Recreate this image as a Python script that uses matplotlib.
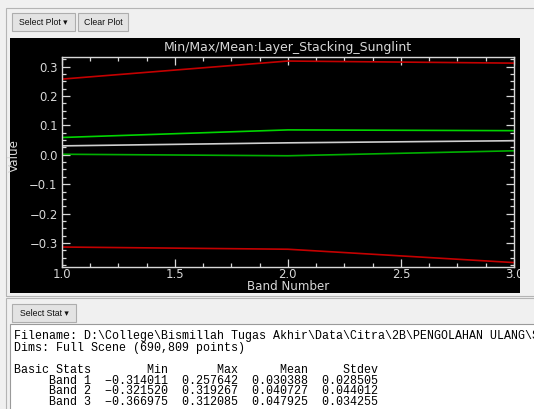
import matplotlib
matplotlib.use("Agg")
import matplotlib.pyplot as plt
from matplotlib.patches import Rectangle
from matplotlib.ticker import MultipleLocator, FuncFormatter

# ---------------- data ----------------
bands = [1, 2, 3]
band_min = [-0.314011, -0.321520, -0.366975]
band_max = [0.257642, 0.319267, 0.312085]
band_mean = [0.030388, 0.040727, 0.047925]
band_std = [0.028505, 0.044012, 0.034255]
band_labels = ["Band 1", "Band 2", "Band 3"]
stat_headers = ["Min", "Max", "Mean", "Stdev"]
title = "Min/Max/Mean:Layer_Stacking_Sunglint"
filename_line = "Filename: D:\\College\\Bismillah Tugas Akhir\\Data\\Citra\\2B\\PENGOLAHAN ULANG\\S"
dims_line = "Dims: Full Scene (690,809 points)"

W, H = 534, 409
fig = plt.figure(figsize=(W / 100, H / 100), dpi=100)
fig.patch.set_facecolor("#f0f0f0")

def fx(x):
    return x / W

def fy(y):
    return 1 - y / H

def frect(x0, y0, x1, y1, **kw):
    r = Rectangle((fx(x0), fy(y1)), fx(x1) - fx(x0), fy(y0) - fy(y1),
                  transform=fig.transFigure, **kw)
    fig.patches.append(r)
    return r

# window frame lines
frect(6, 8, 540, 296, facecolor="none", edgecolor="#b4b4b4", lw=0.8, zorder=0.1)
frect(6, 298, 540, 415, facecolor="none", edgecolor="#b4b4b4", lw=0.8, zorder=0.1)

# buttons
btn_font = dict(family=["Liberation Sans", "DejaVu Sans"], fontsize=6.3, color="#111111")
def button(x0, y0, x1, y1, label):
    frect(x0, y0, x1, y1, facecolor="#e3e3e3", edgecolor="#adadad", lw=0.8, zorder=0.2)
    fig.text(fx((x0 + x1) / 2), fy((y0 + y1) / 2 + 0.5), label, ha="center", va="center",
             zorder=0.3, **btn_font)

button(12, 13, 75, 31, "Select Plot \u25be")
button(78, 13, 128, 31, "Clear Plot")
button(12, 304, 76, 322, "Select Stat \u25be")

# black plot panel
frect(10, 38, 520, 293, facecolor="black", edgecolor="none", zorder=0.5)

# axes
ax_l, ax_r, ax_t, ax_b = 61.7, 514, 56.7, 266.7
ax = fig.add_axes([fx(ax_l), fy(ax_b), fx(ax_r) - fx(ax_l), fy(ax_t) - fy(ax_b)])
ax.set_zorder(1)
ax.set_facecolor("black")
fg = "#d8d8d8"
for s in ax.spines.values():
    s.set_color(fg)
    s.set_linewidth(1.0)

upper = [m + s for m, s in zip(band_mean, band_std)]
lower = [m - s for m, s in zip(band_mean, band_std)]
ax.plot(bands, band_max, color="#c40000", lw=1.2)
ax.plot(bands, band_min, color="#c40000", lw=1.2)
ax.plot(bands, upper, color="#00d400", lw=1.2)
ax.plot(bands, lower, color="#00b000", lw=1.2)
ax.plot(bands, band_mean, color="#cfcfcf", lw=1.2)

ax.set_xlim(1, 3)
ax.set_ylim(-0.381, 0.334)
ax.xaxis.set_major_locator(MultipleLocator(0.5))
ax.xaxis.set_minor_locator(MultipleLocator(0.125))
ax.yaxis.set_major_locator(MultipleLocator(0.1))
ax.yaxis.set_minor_locator(MultipleLocator(0.025))
fmt = FuncFormatter(lambda v, p: ("%.1f" % v).replace("-", "\u2212").replace("\u22120.0", "0.0"))
ax.xaxis.set_major_formatter(fmt)
ax.yaxis.set_major_formatter(fmt)
ax.tick_params(which="both", direction="in", top=True, right=True, colors=fg,
               labelsize=8.4, width=0.9)
ax.tick_params(which="major", length=6)
ax.tick_params(which="minor", length=3)
ax.tick_params(axis="y", pad=3)
ax.tick_params(axis="x", pad=0.6)

ax.text(0.5, (ax_b - 47) / (ax_b - ax_t), title, transform=ax.transAxes, ha="center",
        va="center", color=fg, fontsize=9.0)
ax.text(0.5, (ax_b - 286) / (ax_b - ax_t), "Band Number", transform=ax.transAxes,
        ha="center", va="center", color=fg, fontsize=8.6)
ax.text((14 - ax_l) / (ax_r - ax_l), (ax_b - 156) / (ax_b - ax_t), "Value",
        transform=ax.transAxes, ha="center", va="center", rotation=90, color=fg, fontsize=8.6)

# cover anything beyond the black panel on the right
frect(520, 38, 536, 294, facecolor="#f0f0f0", edgecolor="none", zorder=5)

# stats text box
frect(10, 324, 545, 420, facecolor="white", edgecolor="#9a9a9a", lw=0.8, zorder=2)
mono = dict(family=["Liberation Mono", "DejaVu Sans Mono"], fontsize=8.4, color="black")

header = "Basic Stats" + " " * 8 + stat_headers[0] + " " * 7 + stat_headers[1] + \
         " " * 6 + stat_headers[2] + " " * 5 + stat_headers[3]
rows = []
for i in range(3):
    rows.append("     " + band_labels[i] + "  " +
                ("%.6f" % band_min[i]).replace("-", "\u2212") + "  " +
                "%.6f" % band_max[i] + "  " +
                "%.6f" % band_mean[i] + "  " +
                "%.6f" % band_std[i])
lines = [filename_line, dims_line, "", header] + rows
ys = [336, 347.5, 359, 370, 381, 391.5, 402]
for ln, yy in zip(lines, ys):
    if ln:
        fig.text(fx(14), fy(yy), ln, ha="left", va="center", zorder=3, **mono)

fig.savefig("out.png", dpi=100, facecolor=fig.get_facecolor())
